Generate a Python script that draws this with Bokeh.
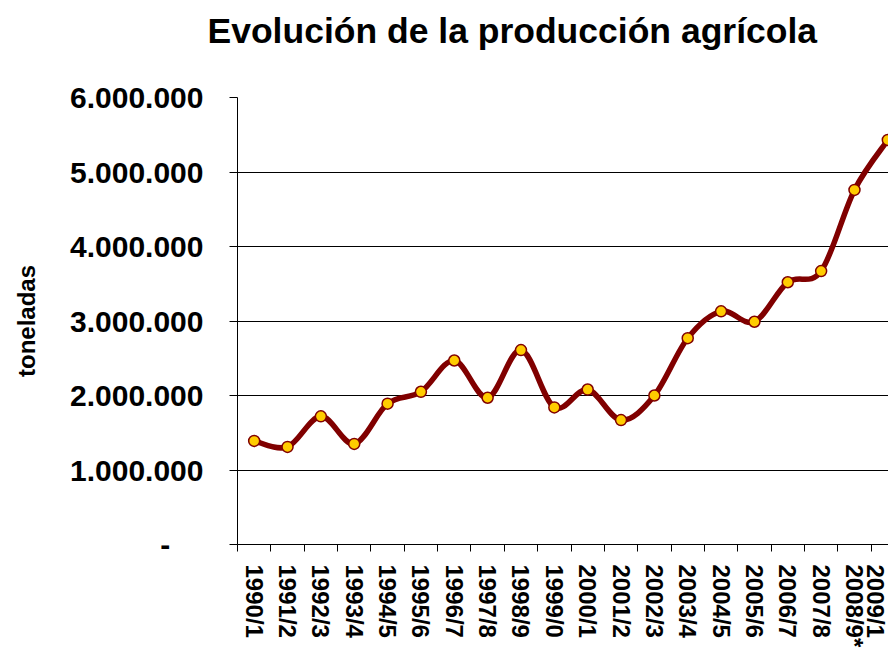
import math
from bokeh.plotting import figure
from bokeh.models import ColumnDataSource, FixedTicker, Range1d, Title
from bokeh.embed import file_html
from bokeh.resources import INLINE

# ---- data ----
title_text = "Evolución de la producción agrícola"
campaigns = ["1990/1", "1991/2", "1992/3", "1993/4", "1994/5", "1995/6", "1996/7",
             "1997/8", "1998/9", "1999/0", "2000/1", "2001/2", "2002/3", "2003/4",
             "2004/5", "2005/6", "2006/7", "2007/8", "2008/9*", "2009/1"]
production = [1390000, 1310000, 1720000, 1350000, 1890000, 2050000, 2470000,
              1970000, 2610000, 1840000, 2080000, 1670000, 2000000, 2770000,
              3130000, 2990000, 3520000, 3670000, 4760000, 5430000]
y_ticks = [0, 1000000, 2000000, 3000000, 4000000, 5000000, 6000000]
y_tick_labels = ["-", "1.000.000", "2.000.000", "3.000.000", "4.000.000",
                 "5.000.000", "6.000.000"]

FONT = "Liberation Sans"
DARK_RED = "#800000"
GOLD = "#FFCC00"

xs = list(range(len(campaigns)))
n = len(xs)

# smoothed line (Catmull-Rom style Bezier segments, as in the spreadsheet chart)
seg = dict(x0=[], y0=[], x1=[], y1=[], cx0=[], cy0=[], cx1=[], cy1=[])
for i in range(n - 1):
    ip = max(i - 1, 0)
    inn = min(i + 2, n - 1)
    seg["x0"].append(xs[i]); seg["y0"].append(production[i])
    seg["x1"].append(xs[i + 1]); seg["y1"].append(production[i + 1])
    seg["cx0"].append(xs[i] + (xs[i + 1] - xs[ip]) / 6)
    seg["cy0"].append(production[i] + (production[i + 1] - production[ip]) / 6)
    seg["cx1"].append(xs[i + 1] - (xs[inn] - xs[i]) / 6)
    seg["cy1"].append(production[i + 1] - (production[inn] - production[i]) / 6)

p = figure(width=888, height=650, output_backend="svg", toolbar_location=None,
           x_range=Range1d(-0.5, 19.02), y_range=Range1d(0, 6000000),
           min_border_left=237, min_border_right=0, min_border_top=97,
           min_border_bottom=103)
p.outline_line_color = None
p.background_fill_color = "white"
p.border_fill_color = "white"

# title (outermost) with an invisible spacer between it and the plot area
p.title.text = title_text
p.title.text_font = FONT
p.title.text_font_style = "bold"
p.title.text_font_size = "35.5px"
p.title.text_color = "black"
p.title.align = "left"
p.title.vertical_align = "bottom"
p.title.offset = -30
p.title.standoff = 0
spacer = Title(text="\u00a0", text_font_size="1px", standoff=44)
p.add_layout(spacer, "above")

# grid
p.xgrid.visible = False
p.ygrid.grid_line_color = "black"
p.ygrid.grid_line_width = 1

# x axis
xa = p.xaxis[0]
xa.ticker = FixedTicker(ticks=xs, minor_ticks=[x - 0.5 for x in xs])
xa.major_label_overrides = {x: c for x, c in zip(xs, campaigns)}
xa.major_label_orientation = -math.pi / 2
xa.major_tick_line_color = None
xa.major_tick_out = 7
xa.major_tick_in = 0
xa.minor_tick_line_color = "black"
xa.minor_tick_out = 7
xa.minor_tick_in = 0
xa.major_label_standoff = 13
xa.major_label_text_font = FONT
xa.major_label_text_font_style = "bold"
xa.major_label_text_font_size = "24px"
xa.major_label_text_color = "black"
xa.axis_line_color = "black"

# y axis
ya = p.yaxis[0]
ya.ticker = FixedTicker(ticks=y_ticks)
ya.major_label_overrides = {
    v: (lab + "\u00a0" * 4 if lab == "-" else lab) for v, lab in zip(y_ticks, y_tick_labels)
}
ya.major_tick_out = 8
ya.major_tick_in = 0
ya.major_tick_line_color = "black"
ya.minor_tick_line_color = None
ya.major_label_standoff = 26
ya.major_label_text_font = FONT
ya.major_label_text_font_style = "bold"
ya.major_label_text_font_size = "30px"
ya.major_label_text_color = "black"
ya.axis_line_color = "black"
ya.axis_label = "toneladas"
ya.axis_label_text_font = FONT
ya.axis_label_text_font_style = "bold"
ya.axis_label_text_font_size = "24px"
ya.axis_label_text_color = "black"
ya.axis_label_standoff = 27

# series
p.bezier(x0="x0", y0="y0", x1="x1", y1="y1", cx0="cx0", cy0="cy0", cx1="cx1", cy1="cy1",
         source=ColumnDataSource(seg), line_color=DARK_RED, line_width=5.5, line_cap="round")
p.scatter(x=xs, y=production, marker="circle", size=11, fill_color=GOLD,
          line_color=DARK_RED, line_width=1.5)

open("out.html", "w").write(file_html(p, INLINE))
